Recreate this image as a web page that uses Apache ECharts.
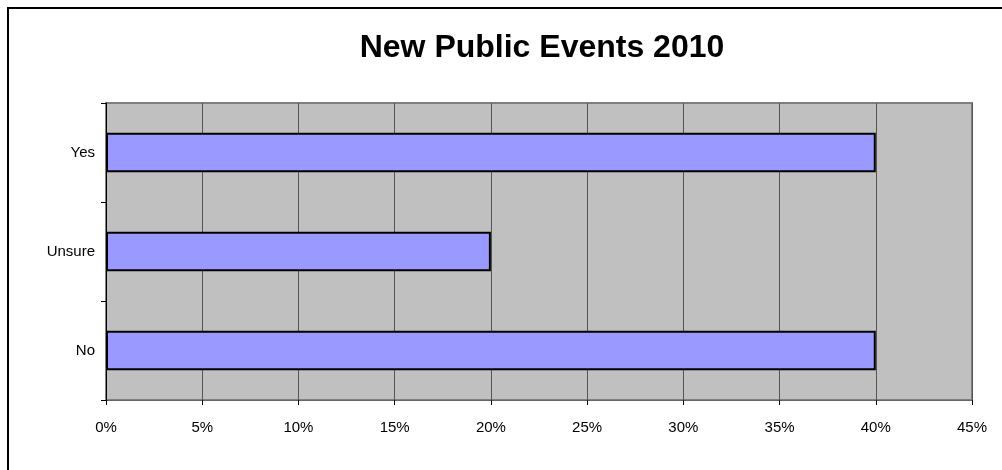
<!DOCTYPE html>
<html>
<head>
<meta charset="utf-8">
<script src="https://cdn.jsdelivr.net/npm/echarts@6/dist/echarts.min.js"></script>
<style>
html, body { margin: 0; padding: 0; background: #fff; }
#main { width: 1002px; height: 470px; }
</style>
</head>
<body>
<div id="main"></div>
<script>
// 数据
var categories = ['No', 'Unsure', 'Yes'];
var values = [40, 20, 40];
var xTicks = [0, 5, 10, 15, 20, 25, 30, 35, 40, 45];

var myChart = echarts.init(document.getElementById('main'));

var option = {
	animation: false,
	backgroundColor: '#fff',
	title: {
		text: 'New Public Events 2010',
		left: 537,
		textAlign: 'center',
		top: 27,
		textStyle: {
			fontFamily: 'Liberation Sans, Arial, sans-serif',
			fontSize: 32,
			fontWeight: 'bold',
			color: '#000'
		}
	},
	graphic: [{
		type: 'rect',
		shape: { x: 8, y: 8, width: 1200, height: 800 },
		style: { fill: 'none', stroke: '#000', lineWidth: 2 },
		silent: true
	}],
	grid: {
		left: 106,
		top: 103,
		right: 30,
		bottom: 70,
		show: true,
		backgroundColor: '#C0C0C0',
		borderColor: '#808080',
		borderWidth: 2
	},
	xAxis: {
		type: 'value',
		min: xTicks[0],
		max: xTicks[xTicks.length - 1],
		interval: 5,
		axisLine: { show: true, lineStyle: { color: '#666', width: 1 } },
		axisTick: { show: true, length: 5, lineStyle: { color: '#000' } },
		axisLabel: {
			margin: 20,
			fontFamily: 'Liberation Sans, Arial, sans-serif',
			fontSize: 15,
			color: '#000',
			formatter: function (v) { return v + '%'; }
		},
		splitLine: { show: true, lineStyle: { color: '#555', width: 1 } }
	},
	yAxis: {
		type: 'category',
		data: categories,
		axisLine: { show: true, lineStyle: { color: '#000', width: 1 } },
		axisTick: { show: true, length: 5, lineStyle: { color: '#000' } },
		axisLabel: {
			margin: 11,
			fontFamily: 'Liberation Sans, Arial, sans-serif',
			fontSize: 15,
			color: '#000'
		},
		splitLine: { show: false }
	},
	series: [{
		type: 'bar',
		data: values,
		barCategoryGap: '60%',
		itemStyle: {
			color: '#9999FF',
			borderColor: '#000',
			borderWidth: 2
		}
	}]
};

myChart.setOption(option);
</script>
</body>
</html>
